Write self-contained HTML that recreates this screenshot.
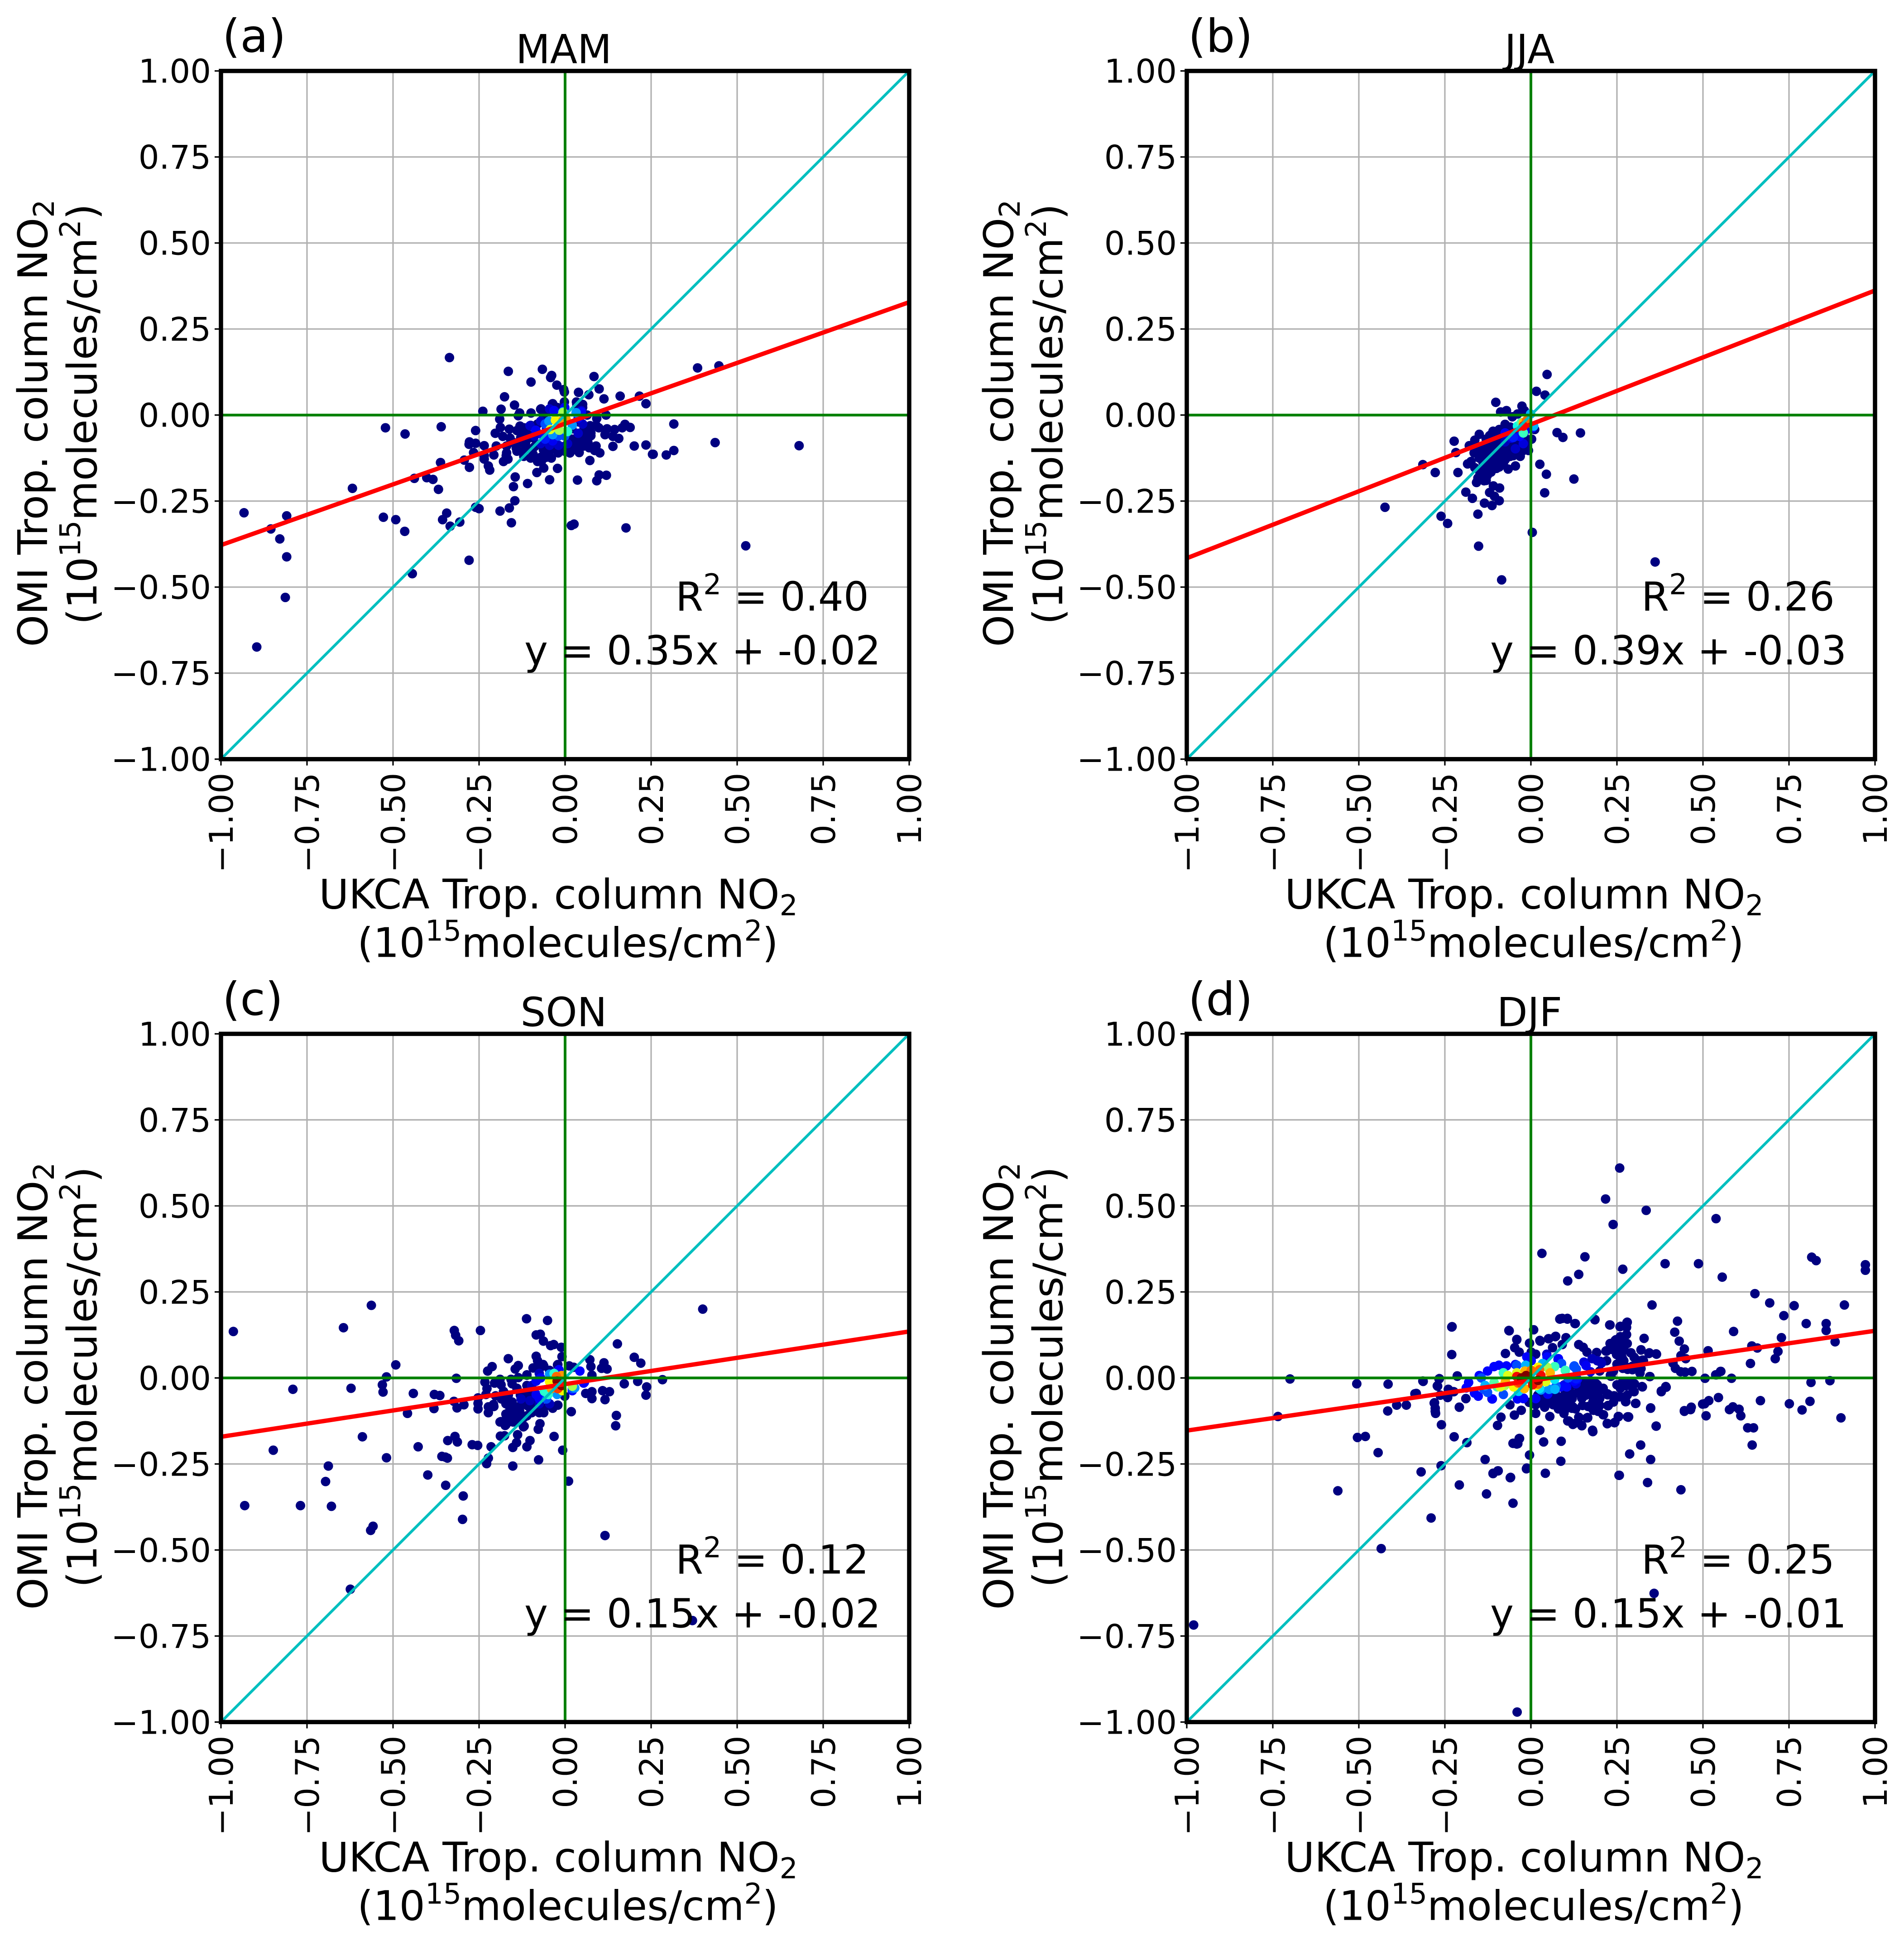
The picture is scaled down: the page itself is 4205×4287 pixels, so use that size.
<!DOCTYPE html>
<html lang="en">
<head>
<meta charset="utf-8">
<title>UKCA vs OMI tropospheric column NO2 anomalies by season</title>
<style>
html,body{margin:0;padding:0;background:#fff;}
svg{display:block;}
text{font-family:"DejaVu Sans","Liberation Sans",sans-serif;fill:#000;}
</style>
</head>
<body>
<svg id="fig" xmlns="http://www.w3.org/2000/svg" width="4205" height="4287" viewBox="0 0 4205 4287"></svg>
<script>
var tickValues = [-1, -0.75, -0.5, -0.25, 0, 0.25, 0.5, 0.75, 1];
var panelLetters = ['(a)', '(b)', '(c)', '(d)'];
var panelTitles = ['MAM', 'JJA', 'SON', 'DJF'];
var rSquaredLabels = ['0.40', '0.26', '0.12', '0.25'];
var fitLabels = ['y = 0.35x + -0.02', 'y = 0.39x + -0.03', 'y = 0.15x + -0.02', 'y = 0.15x + -0.01'];
var fitSlope = [0.353, 0.389, 0.153, 0.145];
var fitIntercept = [-0.025, -0.027, -0.018, -0.008];

var mamX = [-.336,-.165,-.066,-.039,-.042,-.099,-.024,.084,.099,-.004,
-.002,.039,.069,.113,.160,.216,.235,-.176,-.147,-.186,
-.239,-.002,-.037,.033,.051,-.132,-.136,-.099,-.071,-.058,
.119,-.190,-.188,-.162,-.203,-.181,-.160,-.131,-.119,-.125,
-.26,-.522,-.465,-.36,-.278,-.279,-.26,-.235,-.266,-.235,
-.207,-.235,-.293,-.278,-.223,-.219,-.362,-.170,-.171,-.166,
-.179,-.438,-.402,-.384,-.368,-.145,-.150,-.109,-.082,-.062,
-.022,-.045,.036,.092,.099,.120,.072,-.069,-.056,.041,
.014,.101,.086,.08,.066,.139,.201,.235,.254,.294,
.316,.316,.156,.139,.116,.098,.122,.144,.166,.174,
.189,.075,.092,-.146,-.162,-.189,-.156,-.25,-.26,-.306,
-.334,-.344,-.356,-.492,-.528,-.466,-.279,-.444,.018,.026,
.177,-.933,-.855,-.829,-.809,-.809,-.813,-.896,-.618,.385,
.447,.436,.680,.525,.256,
-.142,-.120,-.093,-.071,-.054,-.063,-.089,-.115,-.129,-.124,
-.111,-.093,-.080,-.070,-.056,-.036,-.023,-.030,-.001,.014,
.025,.040,.056,.069,.073,.051,.064,-.063,.034,.043,.003,
-.13,-.11,-.10,-.08,-.06,-.04,-.02,0,.02,.03,
.055,.07,.09,.075,.055,.09,-.14,-.10,-.085,-.15,
-.17,-.20,-.14,-.12,-.10,-.08,-.04,-.02,.02,.04];
var mamY = [.167,.127,.133,.115,.109,.096,.087,.112,.076,.074,
.067,.066,.059,.047,.055,.055,.033,.053,.029,.017,
.011,.038,.032,.038,.031,.006,-.002,.006,.017,.011,
0,-.012,-.036,-.041,-.053,-.062,-.067,-.032,-.037,-.052,
-.045,-.037,-.055,-.034,-.078,-.085,-.082,-.089,-.109,-.118,
-.116,-.128,-.131,-.152,-.148,-.160,-.138,-.110,-.118,-.128,
-.135,-.184,-.182,-.187,-.216,-.180,-.208,-.199,-.167,-.154,
-.155,-.188,-.189,-.191,-.174,-.175,-.132,-.135,-.123,-.109,
-.110,-.110,-.103,-.093,-.078,-.091,-.090,-.087,-.114,-.116,
-.103,-.026,-.068,-.062,-.057,-.037,-.040,-.042,-.037,-.027,
-.036,-.052,-.010,-.249,-.270,-.279,-.313,-.272,-.268,-.311,
-.323,-.285,-.304,-.304,-.297,-.338,-.422,-.461,-.321,-.317,
-.328,-.284,-.331,-.360,-.293,-.412,-.530,-.674,-.213,.137,
.143,-.080,-.089,-.380,-.114,
-.096,-.105,-.114,-.123,-.118,-.101,-.092,-.083,-.066,-.044,
-.053,-.066,-.026,.018,.009,.033,.022,-.099,-.105,-.110,
-.088,-.079,-.061,-.048,-.031,.022,0,0,.031,-.075,-.092,
-.08,-.07,-.10,-.085,-.09,-.10,-.11,-.09,-.07,-.10,
-.09,-.095,-.09,-.06,-.04,-.03,-.045,-.03,-.045,-.08,
-.09,-.09,-.105,-.12,-.125,-.135,-.125,-.09,-.04,-.02];
var mamCoreX = [-.102,-.089,-.071,-.045,-.019,.007,.038,.051,.047,-.045,-.071,-.085,-.063,-.032,-.054,-.036,-.001,.038,.047,-.058,-.058,-.019,-.001,-.047,-.036,.021,.032,-.006,.007,-.017,-.006,-.043,-.028,-.006,.003];
var mamCoreY = [-.031,-.061,-.083,-.088,-.088,-.083,-.053,-.026,.013,.018,-.018,-.044,-.061,.013,-.039,-.075,.022,-.009,.009,-.026,-.070,-.061,-.061,-.018,-.057,-.029,.007,.009,-.048,-.044,.007,-.042,-.015,-.015,-.013];
var mamCoreDensity = [.06,.06,.06,.06,.06,.06,.06,.06,.06,.06,.06,.1,.1,.1,.1,.1,.1,.1,.11,.2,.15,.2,.2,.27,.27,.27,.27,.35,.4,.55,.55,.62,.65,.75,.75];

var jjaX = [.047,.016,.041,-.102,-.026,-.088,-.071,-.039,-.019,-.054,
.076,.093,.144,.011,.002,-.007,-.031,-.045,-.066,.026,
.045,.125,.040,.004,-.152,-.085,-.424,-.261,-.242,-.154,
-.189,-.170,-.135,-.113,-.092,-.106,-.120,-.109,-.091,-.158,
-.136,-.154,-.127,-.212,-.278,-.314,-.223,-.218,-.179,-.163,
-.150,-.110,-.184,-.174,-.163,-.151,-.133,-.092,-.116,.361,
-.127,-.151,-.133,-.116,-.098,-.122,-.104,-.086,-.139,-.069,
-.051,-.022,-.010,-.104,-.086,-.116,-.092,-.075,-.127,-.148,
-.14,-.12,-.11,-.10,-.09,-.08,-.07,-.06,-.05,-.04,
-.03,-.06,-.08,-.10,-.12,-.14,-.145,-.13,-.15,-.165,
-.13,-.11,-.09,-.07,-.06,-.04,-.02,-.01,-.075,-.05,
-.13,-.165,-.12];
var jjaY = [.118,.069,.058,.037,.026,.009,.013,.003,.013,-.005,
-.051,-.065,-.052,-.042,-.070,-.103,-.120,-.148,-.157,-.143,
-.172,-.186,-.226,-.341,-.381,-.479,-.268,-.294,-.315,-.288,
-.224,-.242,-.256,-.263,-.249,-.236,-.225,-.206,-.212,-.196,
-.191,-.183,-.176,-.167,-.167,-.144,-.076,-.109,-.089,-.073,
-.056,-.047,-.142,-.135,-.153,-.113,-.158,-.151,-.166,-.427,
-.088,-.098,-.113,-.098,-.098,-.133,-.118,-.118,-.138,-.123,
-.118,-.103,-.088,-.078,-.083,-.057,-.042,-.027,-.148,-.168,
-.10,-.11,-.13,-.14,-.13,-.10,-.10,-.09,-.08,-.07,
-.09,-.12,-.14,-.155,-.145,-.16,-.18,-.19,-.125,-.11,
-.07,-.075,-.06,-.055,-.035,-.045,-.06,-.075,-.13,-.11,
-.09,-.085,-.06];
var jjaCoreX = [-.075,-.045,-.057,-.022,-.075,-.051,-.033,-.013,.005,-.001,.008,-.039,-.022,-.028,-.012,-.022,-.013,-.022];
var jjaCoreY = [-.078,-.098,-.067,-.083,-.052,-.065,-.062,-.042,-.037,.003,-.032,-.032,-.052,-.022,-.015,-.022,-.017,-.032];
var jjaCoreDensity = [.05,.06,.08,.08,.1,.15,.12,.11,.11,.3,.3,.37,.42,.45,.6,.7,.8,.9];

var sonX = [-.563,-.964,-.644,-.322,-.318,-.309,-.246,-.112,-.051,-.084,
-.072,-.063,-.042,-.033,-.011,-.009,-.165,-.084,-.080,-.064,
-.022,-.212,-.225,-.136,-.145,-.093,-.111,-.136,-.492,-.519,
-.316,-.531,-.529,-.791,-.622,-.441,-.380,-.364,-.381,-.458,
-.323,-.294,-.314,-.253,-.253,-.253,-.233,-.227,-.205,-.189,
-.186,-.157,-.154,-.179,-.230,-.223,-.223,-.208,-.202,-.189,
-.174,-.151,-.121,-.073,-.078,-.138,-.032,-.188,-.176,-.141,
-.152,-.102,-.111,-.007,-.077,-.152,-.215,-.223,-.228,-.270,
-.254,-.320,-.341,-.313,-.427,-.589,-.848,-.519,-.358,-.348,
-.342,-.399,-.347,-.296,-.298,-.688,-.696,-.931,-.769,-.679,
-.558,-.565,-.624,.116,.010,.37,.40,.152,.201,.220,
.072,.075,.113,.106,.122,.078,.172,.211,.283,.237,
.235,.060,.078,.078,.109,.129,.116,.018,.149,.147,
-.207,-.185,-.172,-.154,-.172,-.154,-.132,-.111,-.128,-.154,
-.172,-.187,-.119,-.097,-.075,-.062,-.036,-.021,-.128,-.106,
-.084,-.062,-.115,-.111,-.111,-.093,-.084,-.075,-.062,-.045,
-.021,.012,.025,-.001,
-.16,-.14,-.12,-.15,-.14,-.12,-.10,-.09,-.11,-.08,
-.06,-.17,-.13,-.10,-.165,-.14];
var sonY = [.211,.135,.146,.138,.124,.108,.138,.172,.167,.125,
.127,.107,.094,.097,.089,.062,.056,.063,.050,.039,
.038,.033,.020,.036,.026,.029,.008,.001,.038,.003,
-.001,-.020,-.041,-.033,-.030,-.045,-.048,-.051,-.089,-.103,
-.068,-.078,-.087,-.058,-.074,-.090,-.012,-.031,-.015,-.004,
-.020,-.004,-.017,-.039,-.048,-.084,-.101,-.077,-.052,-.128,
-.138,-.128,-.142,-.133,-.149,-.165,-.170,-.169,-.168,-.188,
-.202,-.182,-.200,-.210,-.238,-.256,-.200,-.233,-.249,-.194,
-.196,-.170,-.182,-.186,-.200,-.171,-.210,-.232,-.228,-.230,
-.233,-.282,-.312,-.343,-.411,-.256,-.301,-.371,-.371,-.373,
-.431,-.443,-.614,-.458,-.30,-.705,.20,.099,.060,.043,
.053,.033,.044,.028,.026,.008,-.017,-.010,-.005,-.026,
-.050,-.045,-.040,-.060,-.037,-.040,-.063,-.098,-.109,-.139,
-.083,-.061,-.075,-.070,-.105,-.096,-.096,-.110,-.123,-.127,
-.136,-.127,-.140,-.101,-.101,-.101,-.088,-.079,-.079,-.083,
-.083,-.088,-.053,-.022,.009,.029,-.009,.026,.035,.022,
.039,.035,.031,-.053,
-.09,-.085,-.07,-.11,-.115,-.115,-.09,-.06,-.08,-.07,
-.06,-.115,-.05,-.04,-.05,-.03];
var sonCoreX = [-.128,-.102,-.075,-.045,-.097,-.075,-.084,-.075,-.084,-.071,-.018,.043,.056,.021,.054,-.054,.021,-.023,-.045,.028,-.049,-.060,-.032,.021,-.045,-.008,-.040,-.010,-.025,-.021,-.023,-.010];
var sonCoreY = [-.061,-.066,-.075,-.075,-.022,.013,-.048,-.061,-.009,0,.024,.020,-.013,-.037,-.015,-.061,-.031,-.048,.011,-.029,-.048,-.039,.013,-.024,-.011,-.037,-.031,.007,.004,-.031,-.009,-.022];
var sonCoreDensity = [.05,.05,.05,.05,.05,.05,.1,.1,.1,.1,.11,.11,.11,.11,.1,.2,.2,.27,.27,.27,.4,.4,.4,.55,.65,.65,.75,.75,.8,.85,1,1];

var djfX = [.258,.217,.335,.239,.538,.032,.157,.390,.487,.267,
.139,.107,.556,.816,.829,.972,.972,.352,.651,.694,
.765,.911,.735,.186,.084,.091,.106,.128,.230,.259,
.279,.277,.278,.426,.418,.431,.329,.589,.800,.858,
.858,.728,.884,.642,.658,.718,.710,.638,.446,.436,
.450,.413,.420,.435,.448,.468,.515,.551,.537,.506,
.583,.505,.517,.545,.509,.466,.446,.577,.587,.605,
.610,.667,.630,.647,.643,.751,.788,.811,.814,.869,
.901,.393,.379,.348,.364,.319,.287,.348,.256,.339,
.436,.358,.180,.088,.087,.042,-.013,-.004,.037,.026,
.055,-.060,-.052,-.129,-.208,-.319,-.261,-.186,-.223,-.133,
-.110,-.096,-.290,-.435,-.561,-.444,-.504,-.481,-.735,-.700,
-.506,-.415,-.416,-.980,-.040,-.230,-.230,-.052,-.041,-.034,
-.097,-.087,-.260,-.278,-.277,-.281,-.390,-.362,-.337,-.314,
-.267,-.272,-.264,-.240,-.242,-.226,-.208,-.214,-.189,-.064,
-.041,.008,-.004,.027,.051,.071,-.047,-.074,-.034,.001,
.014,.063,.091,.102,.139,.152,.163,.191,.218,.241,
.256,.247,.291,.320,.343,.365,.295,.309,.327,.263,
.263,.279,.232,.346,.269,.276,.324,.297,.304,.276,
.269,.224,.254,.283,.222,.244,.014,-.028,-.048,-.061,
.110,.122,.148,.163,.139,.180,.195,.210,.120,.097,
.222,.241,.182,.193,.173,.122,.084,.046,.148,.154,
.097,.084,.065,.020,.122,-.005,.280,.278,.260,.229,
.186,.245,.265,.220,.234,.259,.270,.290,.320,.344,
.364,.191,.251,.265,.312,.325,.295,.281,.320,.317,
.267,.233,.345,.270,.290,.301,.276,.323,.297,.392,
.379,.190,.196,.173,.190,.223,.242,.273,.275,.257,
.224,.305,.348,.184,.170,.196,.211,.182,.165,.255,
.284,.243,.222,.364,.179,.446,.464,.499,.539,.552,
-.063,-.041,.026,.052,.072,.085,.106,.129,-.229,-.214,
-.266,-.313,-.271,-.333,-.263,-.239,-.224,-.242,-.280,-.278,
-.189,-.208,-.033,-.051,-.038,-.012,-.110,-.095,-.059,.257,
.014,.037,.061,.078,.107,.119,.096,.107,.125,.148,
.140,.165,.190,.210,.222,.243,.254,.281,.225,.166,
.184,.225,.243,.272,.196,.149,.113,.190,.154,.231,
.266,.246,.266,.260,.249,.219,.202,.110,.148,-.113,
.02,.04,.06,.08,.10,.12,.14,.16,.17,.04,
.08,.10,.13,.15,.18,.20,.21,.20,.24,.28,
.30,.26,.24,.25,.20,.22,.27,.30,.23,.25,
.26,.28,.25,.16,.14,.12,.10,.07];
var djfY = [.610,.520,.487,.446,.463,.362,.352,.332,.332,.316,
.301,.282,.293,.351,.341,.329,.313,.212,.245,.218,
.210,.212,.181,.170,.171,.173,.171,.158,.154,.149,
.161,.148,.126,.165,.133,.107,.115,.135,.158,.158,
.138,.117,.105,.093,.087,.077,.056,.042,.084,.065,
.056,.043,.028,.018,.017,.019,.079,.019,.009,-.001,
-.001,-.075,-.066,-.057,-.110,-.085,-.097,-.092,-.084,-.091,
-.110,-.066,-.145,-.145,-.195,-.075,-.093,-.068,-.013,-.008,
-.116,-.027,-.040,-.088,-.140,-.195,-.221,-.237,-.283,-.304,
-.325,-.626,-.156,-.184,-.242,-.277,-.264,-.224,-.186,-.152,
-.112,-.290,-.364,-.337,-.311,-.273,-.255,-.188,-.171,-.237,
-.278,-.270,-.407,-.496,-.328,-.217,-.173,-.170,-.112,-.003,
-.017,-.018,-.096,-.718,-.971,.148,.068,-.190,-.192,-.176,
-.138,-.114,-.136,-.097,-.103,-.073,-.079,-.079,-.046,-.009,
-.003,-.023,-.050,-.033,-.057,-.040,-.085,.005,-.060,.138,
.111,.140,.101,.107,.114,.120,.088,.071,.075,.075,
.069,.088,.097,.117,.097,.089,.075,.073,.078,.082,
.101,.111,.073,.082,.071,.069,.024,.050,.050,.069,
.050,.031,.005,.004,-.014,-.023,-.026,-.037,-.074,-.069,
-.056,-.080,-.112,-.114,-.133,-.129,-.103,-.094,-.108,-.078,
-.125,-.135,-.139,-.116,-.114,-.091,-.097,-.107,-.088,-.097,
-.046,-.052,-.059,-.020,-.008,-.046,-.071,-.071,-.059,-.033,
-.020,-.084,-.078,-.071,-.084,-.071,.162,.147,.150,.154,
.169,.109,.106,.078,.083,.078,.084,.073,.081,.073,
.070,.074,.070,.059,.050,.052,.034,.025,.027,.014,
.028,.005,.004,-.011,-.013,-.017,-.022,-.025,-.039,-.025,
-.038,-.022,-.033,-.038,-.049,-.049,-.052,-.056,-.069,-.055,
-.081,-.074,-.087,-.066,-.083,-.096,-.107,-.094,-.116,-.112,
-.113,-.130,-.132,-.140,-.152,-.095,-.092,-.076,.009,.019,
.137,.112,.109,.114,.121,.172,.173,.158,.149,.006,
-.002,-.010,-.024,-.045,-.050,-.037,-.040,-.055,-.072,-.088,
-.060,-.085,-.176,-.190,-.191,-.262,-.277,-.270,-.289,-.283,
-.078,-.078,-.073,-.078,-.083,-.088,-.103,-.125,-.133,-.138,
-.115,-.115,-.092,-.107,-.133,-.130,-.113,-.113,-.080,-.083,
-.068,-.048,-.055,-.058,-.042,-.058,-.063,-.017,-.027,.008,
-.012,.109,.099,.058,.068,.079,.048,-.020,-.020,-.061,
-.05,-.06,-.05,-.055,-.05,-.06,-.045,-.05,-.03,-.085,
-.09,-.075,-.09,-.08,-.07,-.06,-.03,-.08,-.07,-.05,
-.04,-.03,.02,.04,.02,.05,.05,.06,.10,.09,
.12,.10,-.02,-.01,-.03,-.02,-.04,-.04];
var djfCoreX = [.178,.193,.205,.079,.046,.154,
.173,.160,.096,.131,.072,.049,.014,-.022,
-.150,-.126,-.093,-.107,-.071,-.181,-.188,-.164,-.153,-.112,-.039,-.021,.080,-.012,.001,.126,.135,.104,.086,.047,-.045,
-.144,-.137,-.126,-.080,-.041,.126,.132,.108,.073,.089,.125,.131,
-.015,.034,.029,.053,-.036,-.133,.070,
.100,.069,-.107,-.098,-.080,.069,.025,
.047,-.076,
-.067,-.041,.043,-.089,
.021,-.050,.016,
.056,-.074,-.017,-.019,
.001,.025,.021,-.037,
-.041,.029,.020,-.032,.005,
-.014,-.028,.021,-.006];
var djfCoreY = [.056,.050,.043,.054,.069,.046,
.018,.036,-.022,-.017,-.032,-.047,-.060,-.060,
.007,.020,.037,.033,.035,-.013,-.029,-.044,-.053,-.061,-.061,-.059,.056,.061,.050,-.009,-.004,-.026,-.026,.061,.039,
0,-.033,-.042,-.048,.037,.035,.026,0,-.024,.042,.033,-.002,
.037,.042,-.035,-.033,-.039,-.022,-.033,
.022,.033,-.013,-.026,.015,-.004,-.031,
.031,-.022,
.007,.015,-.011,-.026,
.031,-.026,-.022,
.015,-.011,.020,-.031,
.022,.024,-.018,-.015,
.004,.007,-.007,-.013,-.020,
.007,0,-.007,.002];
var djfCoreDensity = [.05,.05,.05,.06,.06,.08,
.08,.1,.1,.08,.1,.1,.1,.1,
.11,.11,.11,.11,.11,.11,.11,.11,.11,.11,.11,.11,.11,.12,.12,.12,.13,.13,.13,.13,.13,
.2,.2,.2,.2,.2,.2,.2,.2,.22,.2,.2,.15,
.3,.3,.27,.27,.33,.3,.3,
.42,.42,.45,.45,.42,.35,.35,
.55,.55,
.62,.62,.62,.62,
.65,.65,.65,
.72,.72,.72,.72,
.8,.8,.8,.8,
.9,.9,.9,.85,.9,
1,1,1,1];

var seriesX = [mamX, jjaX, sonX, djfX];
var seriesY = [mamY, jjaY, sonY, djfY];
var coreX = [mamCoreX, jjaCoreX, sonCoreX, djfCoreX];
var coreY = [mamCoreY, jjaCoreY, sonCoreY, djfCoreY];
var coreDensity = [mamCoreDensity, jjaCoreDensity, sonCoreDensity, djfCoreDensity];

var NS = 'http://www.w3.org/2000/svg';
var fig = document.getElementById('fig');
var PLOT_SIZE = 1520;
var originsLeft = [488, 2621, 488, 2621];
var originsTop = [156.7, 156.7, 2283.4, 2283.4];
var TICK_SIZE = 72, LABEL_SIZE = 88, AXIS_SIZE = 90, LETTER_SIZE = 101, SCRIPT_SIZE = 63;

function svgEl(tag, parent, attrs) {
  var node = document.createElementNS(NS, tag);
  for (var k in attrs) node.setAttribute(k, attrs[k]);
  parent.appendChild(node);
  return node;
}
function lerpStops(v, stops) {
  if (v <= stops[0][0]) return stops[0][1];
  for (var i = 1; i < stops.length; i++) {
    if (v <= stops[i][0]) {
      var t = (v - stops[i-1][0]) / (stops[i][0] - stops[i-1][0]);
      return stops[i-1][1] + t * (stops[i][1] - stops[i-1][1]);
    }
  }
  return stops[stops.length-1][1];
}
function jet(v) {
  var r = lerpStops(v, [[.35,0],[.66,1],[.89,1],[1,.5]]);
  var g = lerpStops(v, [[.125,0],[.375,1],[.64,1],[.91,0]]);
  var b = lerpStops(v, [[0,.5],[.11,1],[.34,1],[.65,0]]);
  return 'rgb(' + Math.round(r*255) + ',' + Math.round(g*255) + ',' + Math.round(b*255) + ')';
}
function formatTick(v) {
  var s = Math.abs(v).toFixed(2);
  return (v < 0 ? '\u2212' : '') + s;
}
function addParts(textNode, parts) {
  var pending = 0;
  parts.forEach(function (p) {
    var span = document.createElementNS(NS, 'tspan');
    var shift = p.shift || 0;
    var dy = pending + shift;
    if (dy !== 0) span.setAttribute('dy', dy);
    if (p.small) span.setAttribute('font-size', SCRIPT_SIZE);
    span.textContent = p.t;
    textNode.appendChild(span);
    pending = -shift;
  });
}
var AXIS_LINE_1 = [{t:'UKCA Trop. column NO'},{t:'2',small:true,shift:15}];
var AXIS_LINE_2 = [{t:'(10'},{t:'15',small:true,shift:-36},{t:'molecules/cm'},{t:'2',small:true,shift:-36},{t:')'}];
var YAXIS_LINE_1 = [{t:'OMI Trop. column NO'},{t:'2',small:true,shift:15}];

function drawPanel(p) {
  var left = originsLeft[p], top = originsTop[p];
  var sx = function (v) { return left + (v + 1) / 2 * PLOT_SIZE; };
  var sy = function (v) { return top + (1 - v) / 2 * PLOT_SIZE; };
  var right = sx(1), bottom = sy(-1), cx = sx(0), cy = sy(0);

  var g = svgEl('g', fig, {});
  
  

  var clipId = 'plot-clip-' + p;
  var defs = svgEl('defs', g, {});
  var cp = svgEl('clipPath', defs, {id: clipId});
  svgEl('rect', cp, {x: left, y: top, width: PLOT_SIZE, height: PLOT_SIZE});

  tickValues.forEach(function (v) {
    var gx = svgEl('line', g, {x1: sx(v), x2: sx(v), y1: top, y2: bottom, stroke: '#b0b0b0', 'stroke-width': 3.2});
    
    
    var gy = svgEl('line', g, {x1: left, x2: right, y1: sy(v), y2: sy(v), stroke: '#b0b0b0', 'stroke-width': 3.2});
    
    
  });

  var pts = svgEl('g', g, {'clip-path': 'url(#' + clipId + ')'});
  
  
  var all = [];
  seriesX[p].forEach(function (x, i) { all.push({x: x, y: seriesY[p][i], z: 0}); });
  coreX[p].forEach(function (x, i) { all.push({x: x, y: coreY[p][i], z: coreDensity[p][i]}); });
  all.sort(function (a, b) { return a.z - b.z; });
  all.forEach(function (d) {
    var c = svgEl('circle', pts, {cx: sx(d.x), cy: sy(d.y), r: 10.5, fill: jet(d.z)});
    
    
  });

  var lines = svgEl('g', g, {'clip-path': 'url(#' + clipId + ')'});
  var fit = svgEl('line', lines, {x1: sx(-1), x2: sx(1), y1: sy(fitSlope[p] * -1 + fitIntercept[p]), y2: sy(fitSlope[p] + fitIntercept[p]), stroke: '#ff0000', 'stroke-width': 9.6});
  
  
  var one = svgEl('line', lines, {x1: sx(-1), x2: sx(1), y1: sy(-1), y2: sy(1), stroke: '#00bfbf', 'stroke-width': 6});
  
  
  var hz = svgEl('line', lines, {x1: left, x2: right, y1: cy, y2: cy, stroke: '#008000', 'stroke-width': 6});
  
  
  var vt = svgEl('line', lines, {x1: cx, x2: cx, y1: top, y2: bottom, stroke: '#008000', 'stroke-width': 6});
  
  

  var frame = svgEl('rect', g, {x: left, y: top, width: PLOT_SIZE, height: PLOT_SIZE, fill: 'none', stroke: '#000', 'stroke-width': 9.5});
  
  

  tickValues.forEach(function (v) {
    var tx = svgEl('line', g, {x1: sx(v), x2: sx(v), y1: bottom, y2: bottom + 14, stroke: '#000', 'stroke-width': 3.2});
    
    
    var ty = svgEl('line', g, {x1: left - 14, x2: left, y1: sy(v), y2: sy(v), stroke: '#000', 'stroke-width': 3.2});
    
    

    var lx = svgEl('text', g, {'font-size': TICK_SIZE, 'text-anchor': 'end', transform: 'translate(' + (sx(v) + 26) + ',' + (bottom + 30) + ') rotate(-90)'});
    lx.textContent = formatTick(v);
    
    
    var ly = svgEl('text', g, {'font-size': TICK_SIZE, 'text-anchor': 'end', x: left - 22, y: sy(v) + 26});
    ly.textContent = formatTick(v);
    
    
  });

  var letter = svgEl('text', g, {'font-size': LETTER_SIZE, x: left + 3, y: top - 42});
  letter.textContent = panelLetters[p];
  
  
  var title = svgEl('text', g, {'font-size': LABEL_SIZE, 'text-anchor': 'middle', x: cx - 3, y: top - 17});
  title.textContent = panelTitles[p];
  
  

  var xl1 = svgEl('text', g, {'font-size': AXIS_SIZE, 'text-anchor': 'middle', x: cx - 15, y: bottom + 330});
  addParts(xl1, AXIS_LINE_1);
  
  
  var xl2 = svgEl('text', g, {'font-size': AXIS_SIZE, 'text-anchor': 'middle', x: cx + 6, y: bottom + 437});
  addParts(xl2, AXIS_LINE_2);
  
  

  var yl1 = svgEl('text', g, {'font-size': AXIS_SIZE, 'text-anchor': 'middle', transform: 'translate(' + (left - 384) + ',' + (cy + 18) + ') rotate(-90)'});
  addParts(yl1, YAXIS_LINE_1);
  
  
  var yl2 = svgEl('text', g, {'font-size': AXIS_SIZE, 'text-anchor': 'middle', transform: 'translate(' + (left - 275) + ',' + (cy - 2) + ') rotate(-90)'});
  addParts(yl2, AXIS_LINE_2);
  
  

  var r2 = svgEl('text', g, {'font-size': LABEL_SIZE, x: left + 1004, y: top + 1192});
  addParts(r2, [{t:'R'},{t:'2',small:true,shift:-36},{t:' = ' + rSquaredLabels[p]}]);
  
  
  var eq = svgEl('text', g, {'font-size': LABEL_SIZE, x: left + 670, y: top + 1311});
  eq.textContent = fitLabels[p];
  
  
}
for (var p = 0; p < 4; p++) drawPanel(p);
</script>
</body>
</html>
